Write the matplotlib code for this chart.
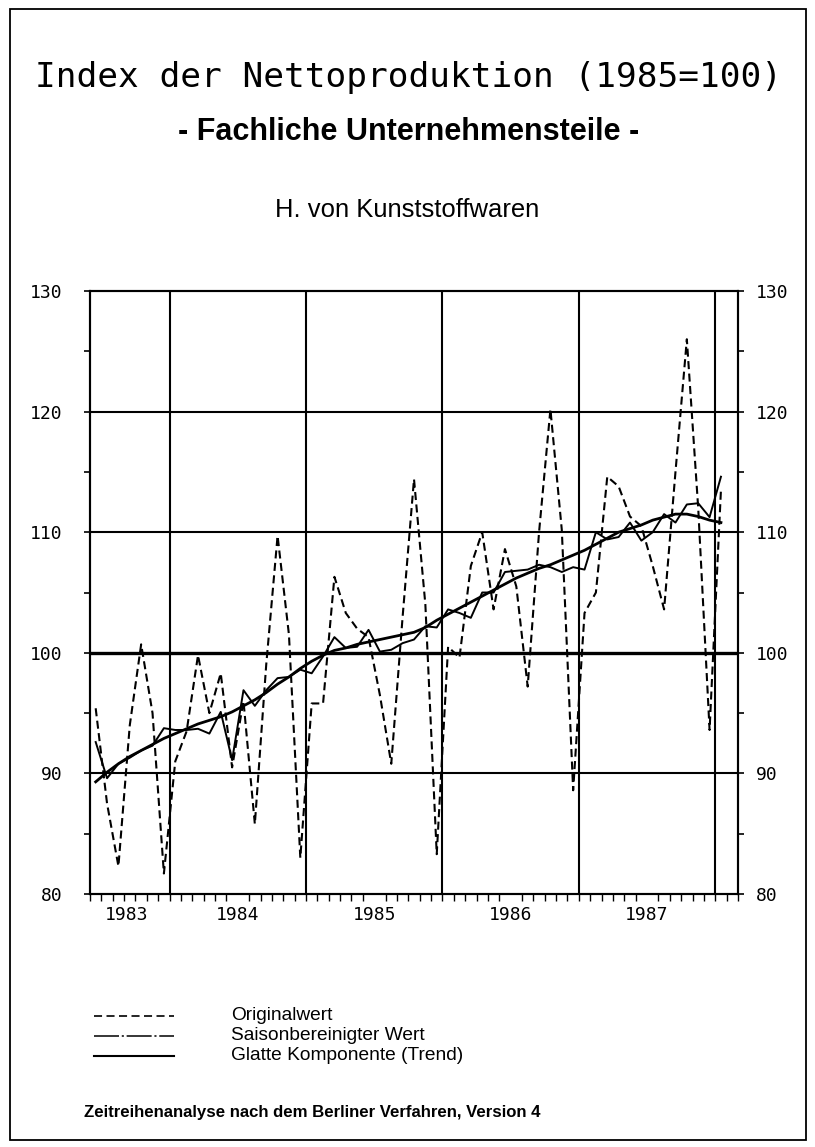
import matplotlib
matplotlib.use('Agg')
import matplotlib.pyplot as plt
from matplotlib.patches import Rectangle
from matplotlib.lines import Line2D
import numpy as np

plt.rcParams['lines.scale_dashes'] = False

# ---------------- data (monthly, June 1983 .. January 1988) ----------------
original = [95.4, 87.5, 82.3, 94.0, 100.7, 95.0, 81.7,
            91.0, 93.5, 99.8, 95.0, 98.3, 90.5, 96.0, 85.8, 99.0, 109.7, 101.5, 83.0,
            95.8, 95.8, 106.3, 103.3, 102.0, 101.3, 96.5, 90.8, 103.0, 114.4, 104.0, 83.3,
            100.5, 99.6, 107.2, 110.0, 103.6, 108.6, 105.5, 97.2, 110.0, 120.2, 110.2, 88.6,
            103.3, 105.0, 114.6, 113.8, 111.3, 110.5, 107.2, 103.6, 115.0, 126.0, 112.0, 93.6,
            113.5]
seasonal_adj = [92.6, 89.6, 90.8, 91.3, 91.9, 92.3, 93.75,
                93.6, 93.6, 93.7, 93.3, 95.1, 91.1, 96.9, 95.6, 96.9, 97.9, 98.0, 98.6,
                98.3, 99.7, 101.3, 100.4, 100.5, 101.9, 100.1, 100.25, 100.8, 101.1, 102.2, 102.1,
                103.6, 103.3, 102.9, 105.0, 105.0, 106.7, 106.8, 106.9, 107.3, 107.1, 106.7, 107.1,
                106.9, 110.0, 109.4, 109.6, 110.8, 109.3, 110.0, 111.5, 110.8, 112.3, 112.4, 111.25,
                114.6]
trend = [89.3, 90.1, 90.8, 91.4, 91.9, 92.4, 92.9,
         93.3, 93.7, 94.1, 94.4, 94.7, 95.1, 95.6, 96.1, 96.7, 97.4, 98.0, 98.7,
         99.3, 99.8, 100.2, 100.4, 100.7, 100.9, 101.1, 101.3, 101.5, 101.7, 102.1, 102.7,
         103.2, 103.7, 104.2, 104.7, 105.2, 105.7, 106.2, 106.6, 107.0, 107.3, 107.7, 108.1,
         108.5, 109.0, 109.5, 110.0, 110.3, 110.6, 111.0, 111.25, 111.5, 111.5, 111.3, 111.0,
         110.8]
year_labels = ['1983', '1984', '1985', '1986', '1987']
year_label_pos = [3.2, 13, 25, 37, 49]          # month units from June 1983
year_boundaries = [7, 19, 31, 43, 55]            # Jan 1984 ... Jan 1988
y_major = [80, 90, 100, 110, 120, 130]
legend_labels = ['Originalwert', 'Saisonbereinigter Wert', 'Glatte Komponente (Trend)']

title = 'Index der Nettoproduktion (1985=100)'
subtitle = '- Fachliche Unternehmensteile -'
subsubtitle = 'H. von Kunststoffwaren'
footer = 'Zeitreihenanalyse nach dem Berliner Verfahren, Version 4'

# ---------------- figure ----------------
W, H = 815, 1147
fig = plt.figure(figsize=(W / 100, H / 100), dpi=100)
fig.patch.set_facecolor('white')


def fx(px):
    return px / W


def fy(py):
    return 1 - py / H


renderer = fig.canvas.get_renderer()


def fit_text(x, y, s, width, ha='center', **kw):
    t = fig.text(fx(x), fy(y), s, ha=ha, va='center', fontsize=10, **kw)
    w = t.get_window_extent(renderer).width
    t.set_fontsize(10 * width / w)
    return t


# outer frame
fig.add_artist(Rectangle((fx(10), fy(1140)), fx(806) - fx(10), fy(9) - fy(1140),
                         transform=fig.transFigure, fill=False, lw=1.3, ec='black'))

mono = 'DejaVu Sans Mono'
sans = 'Liberation Sans'
fit_text(408.5, 78, title, 747, family=mono)
fit_text(409, 132, subtitle, 462, family=sans, fontweight='bold')
fit_text(407, 210, subsubtitle, 265, family=sans)

# ---------------- axes ----------------
ax = fig.add_axes([fx(90), fy(894), fx(738) - fx(90), fy(291) - fy(894)])
ax.set_xlim(0, 57)
ax.set_ylim(80, 130)

x = np.arange(len(original)) + 0.5

for yv in [90, 110, 120]:
    ax.axhline(yv, color='black', lw=1.5, zorder=1)
ax.axhline(100, color='black', lw=2.4, zorder=1)
for xb in year_boundaries:
    ax.axvline(xb, color='black', lw=1.5, zorder=1)

ax.plot(x, original, color='black', lw=1.5, dashes=(5.8, 3.2), zorder=3)
ax.plot(x, seasonal_adj, color='black', lw=1.4, zorder=4)
ax.plot(x, trend, color='black', lw=2.0, zorder=5)

for sp in ax.spines.values():
    sp.set_linewidth(1.5)

ax.set_yticks(y_major)
ax.set_yticks(np.arange(85, 130, 10), minor=True)
ax.set_yticklabels([str(v) for v in y_major], family=mono, fontsize=13)
ax.tick_params(axis='y', which='both', direction='out', length=4, width=1.2, pad=16)

ax.set_xticks(year_label_pos)
ax.set_xticklabels(year_labels, family=mono, fontsize=13)
ax.set_xticks(np.arange(0, 58), minor=True)
ax.tick_params(axis='x', which='major', length=0, pad=9)
ax.tick_params(axis='x', which='minor', direction='out', length=5, width=1.0)

ax2 = ax.twinx()
ax2.set_ylim(80, 130)
ax2.set_yticks(y_major)
ax2.set_yticks(np.arange(85, 130, 10), minor=True)
ax2.set_yticklabels([str(v) for v in y_major], family=mono, fontsize=13)
ax2.tick_params(axis='y', which='both', direction='out', length=4, width=1.2, pad=9)
for sp in ax2.spines.values():
    sp.set_linewidth(1.5)

# ---------------- legend (hand placed) ----------------
leg_y = [1016, 1036, 1056]
styles = [dict(dashes=(5.8, 3.2), lw=1.2),
          dict(dashes=(18, 2, 1.5, 2), lw=1.1),
          dict(lw=1.5)]
for yy, st in zip(leg_y, styles):
    fig.add_artist(Line2D([fx(94), fx(174)], [fy(yy), fy(yy)], transform=fig.transFigure,
                          color='black', **st))
t_long = fit_text(231, leg_y[2], legend_labels[2], 234, ha='left', family=sans)
fs = t_long.get_fontsize()
for yy, s in zip(leg_y[:2], legend_labels[:2]):
    fig.text(fx(231), fy(yy), s, ha='left', va='center', fontsize=fs, family=sans)

fit_text(84, 1112, footer, 460, ha='left', family=sans, fontweight='bold')

fig.savefig('out.png', dpi=100)
